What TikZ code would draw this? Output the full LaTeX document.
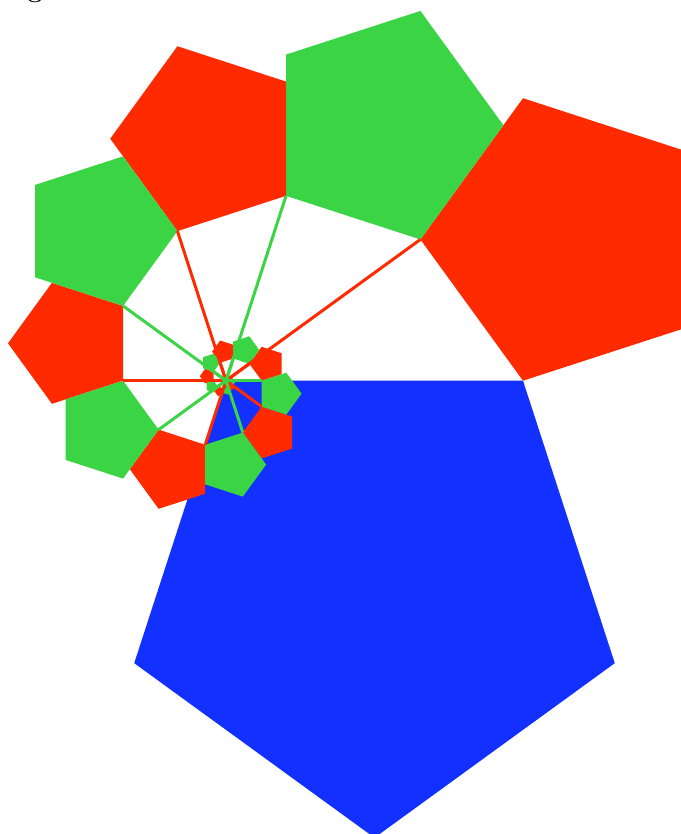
\documentclass[tikz,border=0pt]{standalone}
\usepackage{tikz}
\definecolor{spR}{RGB}{255,42,0}
\definecolor{spG}{RGB}{58,212,68}
\definecolor{spB}{RGB}{18,48,255}
\tikzset{ray/.style={line width=3pt}}

\begin{document}
\begin{tikzpicture}[x=1pt,y=1pt]
\useasboundingbox (-226,-453.3) rectangle (454,380.7);
% spiral centre; A_k at angle 36k, radius 297*cos(36)^k (right angle at A_{k+1})
\coordinate (O) at (0,0);
\foreach \k in {0,...,41}
  \coordinate (A\k) at ({36*\k}:{297*0.809017^\k});
% big pentagon on O--A0, side 297
\fill[spB] (O) -- (A0) -- ++(-72:297) -- ++(-144:297) -- ++(144:297) -- cycle;
% pentagon k sits outside A_k--A_{k+1}, side 297*sin(36)*cos(36)^k
\foreach \k in {0,2,...,40}
  \fill[spR] (A\k) -- ++({36*\k+126}:{174.57*0.809017^\k}) -- ++({36*\k+54}:{174.57*0.809017^\k})
    -- ++({36*\k-18}:{174.57*0.809017^\k}) -- ++({36*\k-90}:{174.57*0.809017^\k}) -- cycle;
\foreach \k in {1,3,...,39}
  \fill[spG] (A\k) -- ++({36*\k+126}:{174.57*0.809017^\k}) -- ++({36*\k+54}:{174.57*0.809017^\k})
    -- ++({36*\k-18}:{174.57*0.809017^\k}) -- ++({36*\k-90}:{174.57*0.809017^\k}) -- cycle;
% rays O--A_{k+1} take the colour of pentagon k
\foreach \k [evaluate=\k as \j using int(\k+1)] in {0,2,...,40}
  \draw[ray, spR] (O) -- (A\j);
\foreach \k [evaluate=\k as \j using int(\k+1)] in {1,3,...,39}
  \draw[ray, spG] (O) -- (A\j);
% caption, cut off at the top
\node[anchor=base west, inner sep=0pt, font=\bfseries\fontsize{26}{26}\selectfont] (cap) at (-225,383.5) {Fig};
\end{tikzpicture}
\end{document}
